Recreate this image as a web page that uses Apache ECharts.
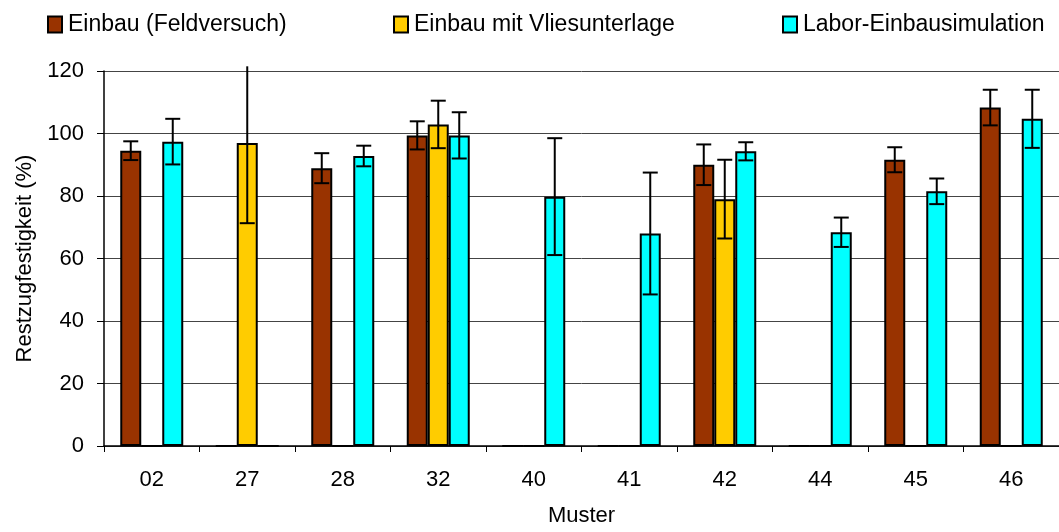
<!doctype html>
<html>
    <head>
        <meta charset="utf-8">
        <title>Restzugfestigkeit</title>
        <script src="https://cdn.jsdelivr.net/npm/echarts@6/dist/echarts.min.js"></script>
        <style>
            html, body { margin: 0; padding: 0; background: #fff; }
            #main { width: 1059px; height: 532px; }
        </style>
    </head>
    <body>
        <div id="main"></div>
        <script>
            var categories = ['02', '27', '28', '32', '40', '41', '42', '44', '45', '46'];
            var seriesNames = ['Einbau (Feldversuch)', 'Einbau mit Vliesunterlage', 'Labor-Einbausimulation'];

            var feld = [94.5, 0, 88.9, 99.4, 0, 0, 90, 0, 91.6, 108.3];
            var feldErr = [3, 0, 4.8, 4.5, 0, 0, 6.5, 0, 4, 5.7];

            var vlies = [0, 97, 0, 102.9, 0, 0, 79, 0, 0, 0];
            var vliesErr = [0, 25.7, 0, 7.6, 0, 0, 12.6, 0, 0, 0];

            var labor = [97.4, 0, 92.8, 99.4, 79.8, 68, 94.3, 68.4, 81.5, 104.7];
            var laborErr = [7.3, 0, 3.3, 7.4, 18.7, 19.5, 2.9, 4.7, 4.1, 9.3];

            var colors = ['#993300', '#FFCC00', '#00FFFF'];
            var barW = 21;
            var font = 'Liberation Sans, Arial, sans-serif';

            var chart = echarts.init(document.getElementById('main'));

            function errData(vals, errs, idx) {
                var out = [];
                for (var i = 0; i < vals.length; i++) {
                    if (errs[i] > 0) {
                        out.push([i, vals[i] - errs[i], vals[i] + errs[i], idx]);
                    }
                }
                return out;
            }

            // error whiskers, shifted onto the matching bar of the group
            function renderErr(params, api) {
                var i = api.value(0);
                var lo = api.value(1);
                var hi = api.value(2);
                var off = (api.value(3) - 1) * barW;
                var capHi = true;
                if (hi > 121.5) { hi = 121.5; capHi = false; }
                var pLo = api.coord([i, lo]);
                var pHi = api.coord([i, hi]);
                var x = pLo[0] + off;
                var half = 7.5;
                var style = { stroke: '#000', lineWidth: 2 };
                var children = [
                    { type: 'line', shape: { x1: x, y1: pLo[1], x2: x, y2: pHi[1] }, style: style },
                    { type: 'line', shape: { x1: x - half, y1: pLo[1], x2: x + half, y2: pLo[1] }, style: style }
                ];
                if (capHi) {
                    children.push({ type: 'line', shape: { x1: x - half, y1: pHi[1], x2: x + half, y2: pHi[1] }, style: style });
                }
                return { type: 'group', children: children };
            }

            var barStyle = function (c) {
                return { color: c, borderColor: '#000', borderWidth: 2 };
            };

            function legendAt(name, left) {
                return {
                    data: [name],
                    left: left,
                    top: 13,
                    padding: 0,
                    itemWidth: 14,
                    itemHeight: 16,
                    icon: 'rect',
                    itemStyle: { borderColor: '#000', borderWidth: 2 },
                    textStyle: { fontFamily: font, fontSize: 23, color: '#000', padding: [0, 0, 0, 1] }
                };
            }

            chart.setOption({
                animation: false,
                color: colors,
                legend: [
                    legendAt(seriesNames[0], 47),
                    legendAt(seriesNames[1], 393),
                    legendAt(seriesNames[2], 782)
                ],
                grid: {
                    left: 104,
                    right: -5,
                    top: 71,
                    bottom: 85
                },
                xAxis: {
                    type: 'category',
                    data: categories,
                    name: 'Muster',
                    nameLocation: 'middle',
                    nameGap: 59,
                    nameTextStyle: { fontFamily: font, fontSize: 22, color: '#000' },
                    axisLine: { lineStyle: { color: '#000', width: 1.5 } },
                    axisTick: { show: true, length: 6, lineStyle: { color: '#000' } },
                    axisLabel: { fontFamily: font, fontSize: 22, color: '#000', margin: 23 }
                },
                yAxis: {
                    type: 'value',
                    min: 0,
                    max: 120,
                    interval: 20,
                    name: 'Restzugfestigkeit (%)',
                    nameLocation: 'middle',
                    nameGap: 67,
                    nameTextStyle: { fontFamily: font, fontSize: 22, color: '#000' },
                    axisLine: { show: true, lineStyle: { color: '#000', width: 1.5 } },
                    axisTick: { show: true, length: 7, lineStyle: { color: '#000' } },
                    axisLabel: { fontFamily: font, fontSize: 22, color: '#000', margin: 20 },
                    splitLine: { show: true, lineStyle: { color: '#444', width: 1 } }
                },
                series: [
                    { name: seriesNames[0], type: 'bar', data: feld, barWidth: barW, barGap: '0%', itemStyle: barStyle(colors[0]) },
                    { name: seriesNames[1], type: 'bar', data: vlies, barWidth: barW, barGap: '0%', itemStyle: barStyle(colors[1]) },
                    { name: seriesNames[2], type: 'bar', data: labor, barWidth: barW, barGap: '0%', itemStyle: barStyle(colors[2]) },
                    {
                        type: 'custom',
                        renderItem: renderErr,
                        data: errData(feld, feldErr, 0)
                            .concat(errData(vlies, vliesErr, 1))
                            .concat(errData(labor, laborErr, 2)),
                        encode: { x: 0, y: [1, 2] },
                        z: 5
                    }
                ]
            });

            window.addEventListener('resize', function () {
                chart.resize();
            });
        </script>
    </body>
</html>
